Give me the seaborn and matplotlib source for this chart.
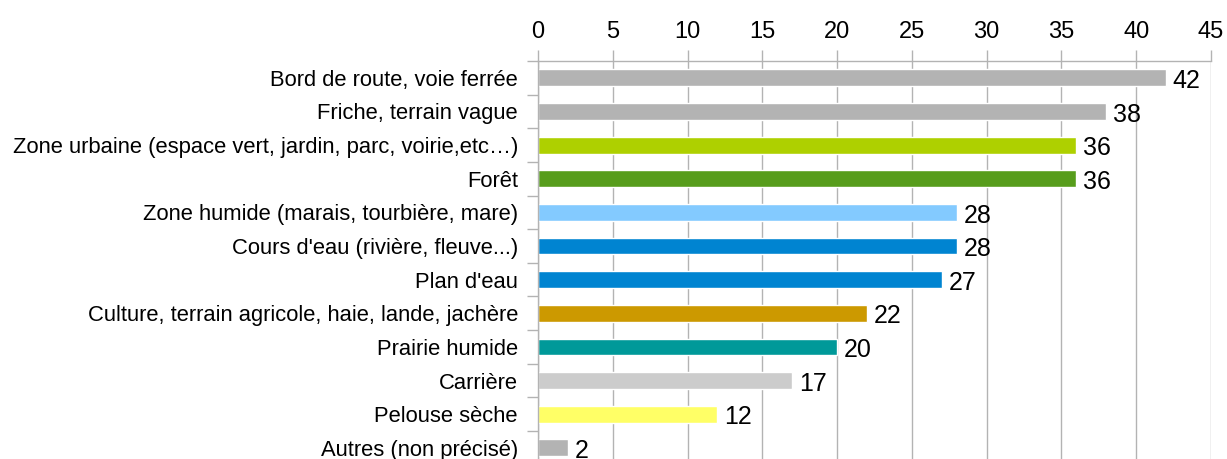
import matplotlib
matplotlib.use('Agg')
import matplotlib.pyplot as plt
import pandas as pd
import seaborn as sns
from matplotlib.ticker import FixedLocator, MultipleLocator

# Data
categories = [
    'Bord de route, voie ferrée',
    'Friche, terrain vague',
    'Zone urbaine (espace vert, jardin, parc, voirie,etc…)',
    'Forêt',
    'Zone humide (marais, tourbière, mare)',
    "Cours d'eau (rivière, fleuve...)",
    "Plan d'eau",
    'Culture, terrain agricole, haie, lande, jachère',
    'Prairie humide',
    'Carrière',
    'Pelouse sèche',
    'Autres (non précisé)',
]
counts = [42, 38, 36, 36, 28, 28, 27, 22, 20, 17, 12, 2]
bar_colors = ['#b3b3b3', '#b3b3b3', '#aed000', '#579d1c', '#83caff', '#0084d1',
              '#0084d1', '#cc9900', '#009999', '#cccccc', '#ffff66', '#b3b3b3']

df = pd.DataFrame({'categorie': categories, 'nombre': counts})

sns.set_style('white')
plt.rcParams['font.family'] = ['Liberation Sans', 'DejaVu Sans']

fig = plt.figure(figsize=(12.27, 4.59), dpi=100)
# axes runs past the bottom edge, like the cropped original
ax = fig.add_axes([538 / 1227, (459 - 464.7) / 459, (1211 - 538) / 1227, (464.7 - 61) / 459])

sns.barplot(data=df, x='nombre', y='categorie', hue='categorie', palette=bar_colors,
            order=categories, hue_order=categories, width=0.5, legend=False,
            saturation=1, ax=ax)

ax.set_xlim(0, 45)
ax.set_ylim(len(categories) - 0.5, -0.5)
ax.set_xlabel('')
ax.set_ylabel('')

# x axis on top
ax.xaxis.set_ticks_position('top')
ax.xaxis.set_label_position('top')
ax.xaxis.set_major_locator(MultipleLocator(5))
ax.tick_params(axis='x', which='major', length=8, width=1, color='#b3b3b3',
               labelsize=17, labelcolor='black', pad=5)

# y labels without ticks, ticks between categories
ax.tick_params(axis='y', which='major', length=0, labelsize=15.85, labelcolor='black', pad=14.4)
ax.yaxis.set_minor_locator(FixedLocator([i + 0.5 for i in range(-1, len(categories))]))
ax.tick_params(axis='y', which='minor', length=8, width=1, color='#b3b3b3', left=True)

ax.grid(axis='x', color='#b3b3b3', linewidth=1)
ax.set_axisbelow(True)

for side in ['right', 'bottom']:
    ax.spines[side].set_visible(False)
for side in ['top', 'left']:
    ax.spines[side].set_color('#b3b3b3')
    ax.spines[side].set_linewidth(1)

for i, v in enumerate(counts):
    ax.text(v + 0.45, i + 0.02, str(v), va='center_baseline', ha='left', fontsize=18, color='black')

fig.savefig('out.png', dpi=100)
